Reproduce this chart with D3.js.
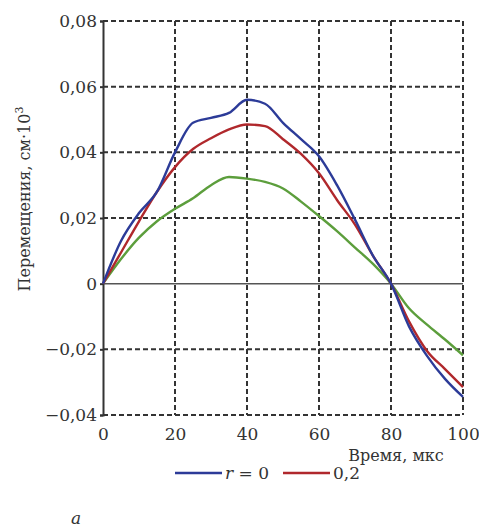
<!DOCTYPE html>
<html>
<head>
<meta charset="utf-8">
<script src="https://cdn.jsdelivr.net/npm/d3@7"></script>
<style>
  body { margin: 0; background: #fff; }
  text { font-family: "DejaVu Serif", "Liberation Serif", serif; fill: #333; }
</style>
</head>
<body>
<svg id="chart" width="479" height="528"></svg>
<script>
// time, mks
const times = [0, 5, 10, 15, 20, 25, 30, 35, 40, 45, 50, 55, 60, 65, 70, 75, 80, 85, 90, 95, 100];
// displacement, r = 0
const seriesR0 = [0, 0.013, 0.0215, 0.028, 0.040, 0.049, 0.0505, 0.052, 0.056, 0.0548, 0.049, 0.044, 0.0388, 0.030, 0.0195, 0.0085, 0, -0.013, -0.022, -0.029, -0.0345];
// displacement, r = 0,2
const seriesR02 = [0, 0.0095, 0.019, 0.028, 0.0355, 0.041, 0.0443, 0.047, 0.0485, 0.048, 0.044, 0.0395, 0.0336, 0.0255, 0.018, 0.0085, 0, -0.0115, -0.0205, -0.026, -0.0315];
// third curve (no legend entry)
const seriesGreen = [0, 0.0075, 0.014, 0.019, 0.0228, 0.026, 0.030, 0.0325, 0.032, 0.031, 0.029, 0.025, 0.0206, 0.016, 0.011, 0.006, 0, -0.0075, -0.0125, -0.017, -0.0218];

const xTicks = [0, 20, 40, 60, 80, 100];
const yTicks = [-0.04, -0.02, 0, 0.02, 0.04, 0.06, 0.08];

const svg = d3.select("#chart");
const x = d3.scaleLinear().domain([0, 100]).range([103, 463]);
const y = d3.scaleLinear().domain([-0.04, 0.08]).range([415, 21]);

const fmt = d => d === 0 ? "0" : d3.format(".2f")(d).replace(".", ",").replace("-", "\u2212");

// grid (dashed)
const grid = svg.append("g").attr("stroke", "#333").attr("stroke-width", 2).attr("stroke-dasharray", "5,3");
grid.selectAll("line.h").data(yTicks.filter(d => d !== 0)).join("line")
  .attr("x1", x(0)).attr("x2", x(100))
  .attr("y1", d => y(d)).attr("y2", d => y(d));
grid.selectAll("line.v").data(xTicks.filter(d => d !== 0)).join("line")
  .attr("class", "v")
  .attr("y1", y(0.08)).attr("y2", y(-0.04))
  .attr("x1", d => x(d)).attr("x2", d => x(d));

// zero line
svg.append("line")
  .attr("x1", x(0)).attr("x2", x(100)).attr("y1", y(0)).attr("y2", y(0))
  .attr("stroke", "#555").attr("stroke-width", 1.5);

// y axis
const yAxis = svg.append("g").attr("transform", `translate(${x(0)},0)`)
  .call(d3.axisLeft(y).tickValues(yTicks).tickFormat(fmt).tickSize(3).tickPadding(3));
yAxis.select(".domain").attr("stroke", "#333").attr("stroke-width", 2);
yAxis.selectAll(".tick line").attr("stroke", "#333").attr("stroke-width", 2);
yAxis.selectAll("text").attr("font-size", 17).attr("font-family", "DejaVu Serif").attr("fill", "#333");

// x axis labels
const xAxis = svg.append("g").attr("transform", `translate(0,${y(-0.04)})`)
  .call(d3.axisBottom(x).tickValues(xTicks).tickFormat(d => d).tickSize(0).tickPadding(13));
xAxis.select(".domain").remove();
xAxis.selectAll("text").attr("font-size", 17).attr("font-family", "DejaVu Serif").attr("fill", "#333");

// curves
const line = vals => d3.line().x((d, i) => x(times[i])).y(d => y(d)).curve(d3.curveMonotoneX)(vals);
const curves = [
  { vals: seriesGreen, color: "#5c9e3c" },
  { vals: seriesR02, color: "#b0282c" },
  { vals: seriesR0, color: "#2c3b98" }
];
svg.append("g").selectAll("path").data(curves).join("path")
  .attr("d", d => line(d.vals))
  .attr("fill", "none").attr("stroke", d => d.color).attr("stroke-width", 2.4);

// axis titles
svg.append("text")
  .attr("transform", "translate(30,199) rotate(-90)")
  .attr("text-anchor", "middle").attr("font-size", 16)
  .html("Перемещения, см·10<tspan dy='-7' font-size='11'>3</tspan>");
svg.append("text")
  .attr("x", 396).attr("y", 461).attr("text-anchor", "middle").attr("font-size", 16)
  .text("Время, мкс");

// legend
const legend = [
  { label: "r = 0", color: "#2c3b98", x0: 175 },
  { label: "0,2", color: "#b0282c", x0: 283 }
];
const lg = svg.append("g").selectAll("g").data(legend).join("g");
lg.append("line")
  .attr("x1", d => d.x0).attr("x2", d => d.x0 + 47).attr("y1", 473).attr("y2", 473)
  .attr("stroke", d => d.color).attr("stroke-width", 2.4);
lg.append("text")
  .attr("x", d => d.x0 + 50).attr("y", 479).attr("font-size", 17)
  .html(d => d.label === "r = 0" ? "<tspan font-style='italic'>r</tspan> = 0" : d.label);

svg.append("text").attr("x", 76).attr("y", 524).attr("text-anchor", "middle")
  .attr("font-size", 17).attr("font-style", "italic").text("а");
</script>
</body>
</html>
